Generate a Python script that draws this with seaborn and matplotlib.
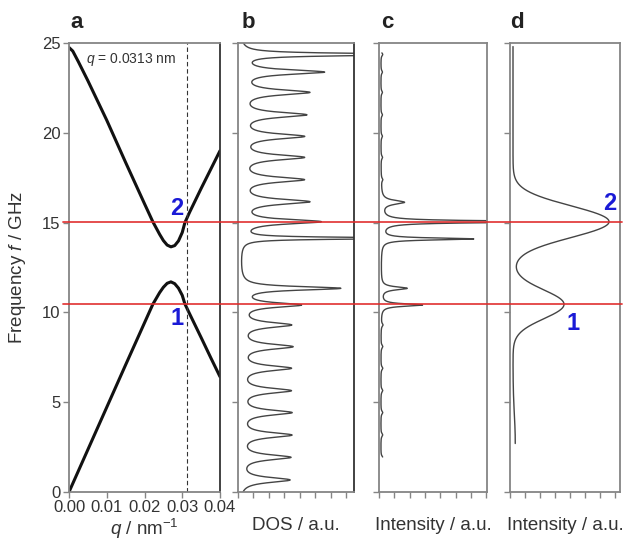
import numpy as np
import pandas as pd
import matplotlib
matplotlib.use("Agg")
import matplotlib.pyplot as plt
import seaborn as sns
from matplotlib.lines import Line2D
from matplotlib.transforms import blended_transform_factory

# ---------------- data ----------------
# panel a: dispersion bands
q_lower = [0.0, 0.005, 0.010, 0.015, 0.020, 0.0222, 0.024, 0.025, 0.026, 0.027, 0.028,
           0.029, 0.030, 0.0307, 0.032, 0.035, 0.0375, 0.040]
f_lower = [0.0, 2.36, 4.72, 7.08, 9.42, 10.45, 11.1, 11.4, 11.62, 11.7, 11.6,
           11.35, 10.95, 10.47, 9.9, 8.6, 7.5, 6.42]
q_upper = [0.0, 0.001, 0.0025, 0.005, 0.010, 0.015, 0.020, 0.0222, 0.024, 0.025, 0.026, 0.027,
           0.028, 0.029, 0.030, 0.0307, 0.032, 0.035, 0.0375, 0.040]
f_upper = [24.75, 24.55, 23.95, 22.9, 20.7, 18.35, 16.05, 15.05, 14.35, 14.0, 13.75, 13.65,
           13.72, 13.98, 14.45, 15.0, 15.6, 16.9, 17.95, 19.0]
q_mark = 0.0313
red_freqs = [15.05, 10.47]

# panel b: DOS peaks (GHz, height a.u., half width GHz)
dos_pos = [0.67, 1.93, 3.17, 4.42, 5.64, 6.89, 8.09, 9.30, 10.41, 11.34,
           14.13, 15.05, 16.16, 17.39, 18.63, 19.80, 21.00, 22.25, 23.38, 24.36]
dos_amp = [3.2, 3.2, 3.25, 3.25, 3.2, 3.2, 3.3, 3.2, 3.8, 6.4,
           12.0, 5.1, 4.35, 4.0, 4.0, 4.0, 4.15, 4.35, 5.3, 12.0]
dos_wid = [0.17, 0.17, 0.17, 0.17, 0.17, 0.17, 0.17, 0.17, 0.15, 0.12,
           0.06, 0.15, 0.17, 0.17, 0.17, 0.17, 0.17, 0.17, 0.15, 0.08]
dos_base = 0.08

# panel c: simulated spectrum peaks
c_pos = [16.13, 15.05, 14.09, 11.34, 10.41,
         1.93, 3.17, 4.42, 5.64, 6.89, 8.09, 9.30, 17.39, 18.63, 19.80, 21.00, 22.25, 23.38, 24.36]
c_amp = [1.5, 12.0, 6.0, 1.7, 2.7,
         0.12, 0.12, 0.12, 0.12, 0.12, 0.12, 0.12, 0.1, 0.1, 0.1, 0.1, 0.1, 0.1, 0.12]
c_wid = [0.13, 0.065, 0.065, 0.1, 0.08,
         0.1, 0.1, 0.1, 0.1, 0.1, 0.1, 0.1, 0.1, 0.1, 0.1, 0.1, 0.1, 0.1, 0.1]
c_base = 0.12
c_range = (1.95, 24.45)

# panel d: broadened spectrum peaks (GHz, height, sigma)
d_pos = [15.05, 10.45, 2.8]
d_amp = [6.4, 3.4, 0.15]
d_sig = [0.88, 0.8, 1.5]
d_base = 0.2
d_range = (2.7, 24.8)

# ---------------- build curves ----------------
f_grid = np.linspace(0, 25, 5001)

def lorentz_sum(f, pos, amp, wid, base):
    y = np.full_like(f, base)
    for p, a, w in zip(pos, amp, wid):
        y += a * w**2 / ((f - p)**2 + w**2)
    return y

def gauss_sum(f, pos, amp, sig, base):
    y = np.full_like(f, base)
    for p, a, s in zip(pos, amp, sig):
        y += a * np.exp(-(f - p)**2 / (2 * s**2))
    return y

dos = lorentz_sum(f_grid, dos_pos, dos_amp, dos_wid, dos_base)
fc = f_grid[(f_grid >= c_range[0]) & (f_grid <= c_range[1])]
ic = lorentz_sum(fc, c_pos, c_amp, c_wid, c_base)
fd = f_grid[(f_grid >= d_range[0]) & (f_grid <= d_range[1])]
idd = gauss_sum(fd, d_pos, d_amp, d_sig, d_base)

# ---------------- style ----------------
sns.set_style("ticks")
plt.rcParams["font.family"] = ["Liberation Sans", "DejaVu Sans"]
plt.rcParams["mathtext.fontset"] = "custom"
plt.rcParams["mathtext.rm"] = "Liberation Sans"
plt.rcParams["mathtext.it"] = "Liberation Sans:italic"

W, H = 626, 546
fig = plt.figure(figsize=(W / 100, H / 100), dpi=100)

def ax_at(x0, x1, y0=43, y1=492):
    return fig.add_axes([x0 / W, 1 - y1 / H, (x1 - x0) / W, (y1 - y0) / H])

ax_a = ax_at(69, 220)
ax_b = ax_at(238, 354)
ax_c = ax_at(379, 487)
ax_d = ax_at(510, 620)

spine_col = "#858585"
for ax in (ax_a, ax_b, ax_c, ax_d):
    ax.set_ylim(0, 25)
    ax.set_yticks([0, 5, 10, 15, 20, 25])
    for s in ax.spines.values():
        s.set_color(spine_col)
        s.set_linewidth(1.3)
    ax.tick_params(axis="both", direction="out", length=4, width=1.0,
                   color=spine_col, labelsize=12, pad=2, labelcolor="#333333")
for ax in (ax_a, ax_b):
    ax.spines["right"].set_color("#333333")

# panel a
sns.lineplot(x=q_lower, y=f_lower, ax=ax_a, color="#111111", lw=2.2, sort=False, estimator=None)
sns.lineplot(x=q_upper, y=f_upper, ax=ax_a, color="#111111", lw=2.2, sort=False, estimator=None)
ax_a.axvline(q_mark, color="#333333", lw=0.8, ls=(0, (4, 2.5)))
ax_a.set_xlim(0, 0.04)
ax_a.set_xticks([0.0, 0.01, 0.02, 0.03, 0.04])
ax_a.set_xticklabels(["0.00", "0.01", "0.02", "0.03", "0.04"])
ax_a.set_xlabel("$q$ / nm$^{-1}$", fontsize=13.5, color="#333333")
ax_a.set_ylabel("Frequency $f$ / GHz", fontsize=13.5, color="#333333")
ax_a.yaxis.set_label_coords(-0.27, 0.5)
ax_a.text(0.115, 0.963, "$q$ = 0.0313 nm", transform=ax_a.transAxes, fontsize=10,
          ha="left", va="center", color="#333333")

# panel b
sns.lineplot(x=dos, y=f_grid, ax=ax_b, orient="y", color="#444444", lw=1.0, estimator=None)
ax_b.set_xlim(0, 7.5)
ax_b.set_xticks(range(8))
ax_b.set_xlabel("DOS / a.u.", fontsize=13.5, color="#333333")

# panel c
sns.lineplot(x=ic, y=fc, ax=ax_c, orient="y", color="#444444", lw=1.0, estimator=None)
ax_c.set_xlim(0, 7.05)
ax_c.set_xticks(range(8))
ax_c.set_xlabel("Intensity / a.u.", fontsize=13.5, color="#333333")

# panel d
sns.lineplot(x=idd, y=fd, ax=ax_d, orient="y", color="#444444", lw=1.0, estimator=None)
ax_d.set_xlim(0, 7.33)
ax_d.set_xticks(range(8))
ax_d.set_xlabel("Intensity / a.u.", fontsize=13.5, color="#333333")

for ax in (ax_b, ax_c, ax_d):
    ax.set_yticklabels([])
    ax.set_xticklabels([])
    ax.set_ylabel("")
for ax in (ax_a, ax_b, ax_c, ax_d):
    ax.xaxis.set_label_coords(0.5, -0.056)

# panel letters
for ax, lab, dx in ((ax_a, "a", 0.01), (ax_b, "b", 0.03), (ax_c, "c", 0.02), (ax_d, "d", 0.0)):
    ax.text(dx, 1.033, lab, transform=ax.transAxes, fontsize=16, fontweight="bold",
            ha="left", va="baseline", color="#222222")

# blue mode numbers
blue = "#1a1ad6"
ax_a.text(0.02853, 15.76, "2", color=blue, fontsize=17, fontweight="bold", ha="center", va="center")
ax_a.text(0.02874, 9.67, "1", color=blue, fontsize=17, fontweight="bold", ha="center", va="center")
ax_d.text(6.62, 16.04, "2", color=blue, fontsize=17, fontweight="bold", ha="center", va="center")
ax_d.text(4.17, 9.39, "1", color=blue, fontsize=17, fontweight="bold", ha="center", va="center")

# red horizontal lines across all panels
trans = blended_transform_factory(fig.transFigure, ax_a.transData)
for fr in red_freqs:
    fig.add_artist(Line2D([63 / W, 622 / W], [fr, fr], transform=trans,
                          color="#e02b2b", lw=1.3, alpha=0.9))

fig.savefig("out.png", dpi=100, facecolor="white")
